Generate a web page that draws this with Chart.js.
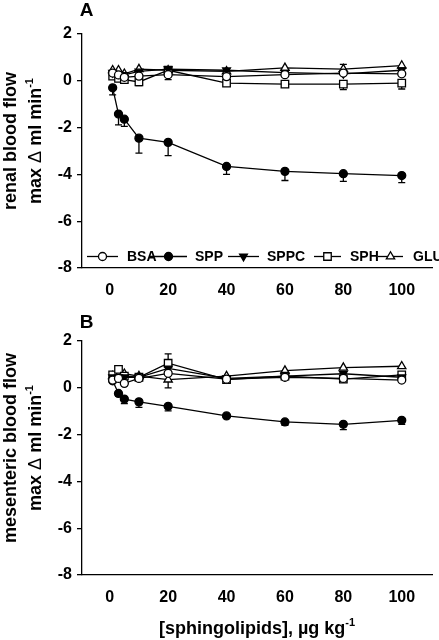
<!DOCTYPE html>
<html>
<head>
<meta charset="utf-8">
<script src="https://cdn.jsdelivr.net/npm/chart.js@4.4.0/dist/chart.umd.min.js"></script>
<style>
  body { margin: 0; background: #fff; width: 439px; height: 640px; overflow: hidden; position: relative; }
  .panel { position: absolute; left: 0; width: 439px; }
</style>
</head>
<body>
<div class="panel" style="top:0;height:305px"><canvas id="chartA"></canvas></div>
<div class="panel" style="top:305px;height:335px"><canvas id="chartB"></canvas></div>
<script>
// --- DATA ---
const doses = [1, 3, 5, 10, 20, 40, 60, 80, 100];
const xTicks = [0, 20, 40, 60, 80, 100];
const yTicks = [-8, -6, -4, -2, 0, 2];
const seriesNames = ['BSA', 'SPP', 'SPPC', 'SPH', 'GLU'];

// panel A: renal blood flow
const bsaA  = [0.33, 0.25, 0.15, 0.2, 0.26, 0.18, 0.26, 0.33, 0.3];
const sppA  = [-0.3, -1.42, -1.64, -2.45, -2.63, -3.66, -3.87, -3.97, -4.05];
const sppcA = [0.35, 0.3, 0.25, 0.4, 0.5, 0.45, 0.35, 0.3, 0.45];
const sphA  = [0.2, 0.1, 0.05, -0.05, 0.45, -0.1, -0.14, -0.14, -0.1];
const gluA  = [0.45, 0.45, 0.3, 0.5, 0.45, 0.4, 0.55, 0.5, 0.65];
// error bar tips (null = none visible)
const sppErrA = [-0.6, -1.88, -1.95, -3.09, -3.2, -4.0, -4.26, -4.3, -4.35];
const sphErrA = [null, null, null, -0.2, null, null, -0.25, -0.38, -0.35];
const bsaErrA = [null, null, null, null, 0.05, null, null, null, null];
const gluErrA = [null, null, null, null, null, null, null, 0.7, null];

// panel B: mesenteric blood flow
const bsaB  = [0.33, 0.4, 0.19, 0.4, 0.62, 0.37, 0.45, 0.4, 0.33];
const sppB  = [0.3, -0.24, -0.48, -0.6, -0.79, -1.2, -1.46, -1.56, -1.39];
const sppcB = [0.45, 0.45, 0.45, 0.45, 0.83, 0.4, 0.5, 0.6, 0.45];
const sphB  = [0.55, 0.79, 0.5, 0.45, 1.05, 0.35, 0.5, 0.37, 0.55];
const gluB  = [0.5, 0.55, 0.6, 0.5, 0.35, 0.5, 0.73, 0.86, 0.92];
const sppErrB = [null, -0.35, -0.67, -0.84, -0.99, null, -1.6, -1.79, -1.56];
const sphErrB = [null, null, null, null, 1.45, null, null, null, null];
const gluErrB = [null, null, null, null, 0.0, null, null, null, null];

// --- STYLE ---
const FONT = "'Liberation Sans', Arial, sans-serif";
const markers = [
  { pointStyle: 'circle', rotation: 0, fill: '#fff', radius: 4 },
  { pointStyle: 'circle', rotation: 0, fill: '#000', radius: 4 },
  { pointStyle: 'triangle', rotation: 180, fill: '#000', radius: 4.5 },
  { pointStyle: 'rect', rotation: 0, fill: '#fff', radius: 5.3 },
  { pointStyle: 'triangle', rotation: 0, fill: '#fff', radius: 4.8 }
];

// draws rich text (bold / normal / superscript pieces) centred at 0,0
function drawPieces(ctx, pieces, size) {
  const fontOf = p => p.sup ? `bold ${Math.round(size * 0.62)}px ${FONT}` :
    `${p.normal ? 'normal' : 'bold'} ${size}px ${FONT}`;
  let total = 0;
  pieces.forEach(p => { ctx.font = fontOf(p); p.w = ctx.measureText(p.t).width; total += p.w; });
  let x = -total / 2;
  ctx.textAlign = 'left';
  ctx.textBaseline = 'alphabetic';
  pieces.forEach(p => {
    ctx.font = fontOf(p);
    ctx.fillText(p.t, x, p.sup ? -size * 0.45 : 0);
    x += p.w;
  });
}

const decor = {
  id: 'decor',
  beforeDatasetsDraw(chart, args, o) {
    const ctx = chart.ctx, xs = chart.scales.x, ys = chart.scales.y;
    ctx.save();
    ctx.strokeStyle = '#000';
    ctx.lineWidth = 1.3;
    o.errors.forEach((errs, i) => {
      if (!errs) return;
      const vals = chart.data.datasets[i].data;
      errs.forEach((tip, j) => {
        if (tip === null) return;
        const x = xs.getPixelForValue(doses[j]);
        const y0 = ys.getPixelForValue(vals[j].y);
        const y1 = ys.getPixelForValue(tip);
        ctx.beginPath();
        ctx.moveTo(x, y0); ctx.lineTo(x, y1);
        ctx.moveTo(x - 3.5, y1); ctx.lineTo(x + 3.5, y1);
        ctx.stroke();
      });
    });
    ctx.restore();
  },
  afterDraw(chart, args, o) {
    const ctx = chart.ctx;
    ctx.save();
    ctx.fillStyle = '#000';
    // panel letter
    ctx.font = `bold 19px ${FONT}`;
    ctx.textAlign = 'center';
    ctx.textBaseline = 'alphabetic';
    ctx.fillText(o.letter, 86.5, o.letterY);

    // y title, two rotated lines
    const cy = (chart.chartArea.top + chart.chartArea.bottom) / 2 - 10;
    ctx.save();
    ctx.translate(16, cy);
    ctx.rotate(-Math.PI / 2);
    drawPieces(ctx, [{ t: o.yTitle }], 18);
    ctx.restore();
    ctx.save();
    ctx.translate(41, cy);
    ctx.rotate(-Math.PI / 2);
    drawPieces(ctx, [{ t: 'max ' }, { t: 'Δ', normal: true }, { t: ' ml min' }, { t: '-1', sup: true }], 18);
    ctx.restore();

    // x title
    if (o.xTitle) {
      ctx.save();
      ctx.translate(257, chart.height - 6);
      drawPieces(ctx, [{ t: '[sphingolipids], µg kg' }, { t: '-1', sup: true }], 18);
      ctx.restore();
    }

    // legend
    if (o.legend) {
      const ly = 256.5;
      const spans = [[87, 118], [150, 187], [228, 259], [314, 341], [378, 403]];
      const textX = [127, 195, 267, 350, 413];
      seriesNames.forEach((name, k) => {
        const [a, b] = spans[k];
        ctx.strokeStyle = '#000';
        ctx.lineWidth = 1.3;
        ctx.beginPath(); ctx.moveTo(a, ly); ctx.lineTo(b, ly); ctx.stroke();
        const m = markers[k];
        ctx.fillStyle = m.fill;
        Chart.helpers.drawPoint(ctx, { pointStyle: m.pointStyle, rotation: m.rotation, radius: m.radius, borderWidth: 1.3 }, (a + b) / 2, ly);
        ctx.fillStyle = '#000';
        ctx.font = `bold 14px ${FONT}`;
        ctx.textAlign = 'left';
        ctx.textBaseline = 'middle';
        ctx.fillText(name, textX[k], ly + 1);
      });
    }
    ctx.restore();
  }
};

function makePanel(id, series, errors, opts) {
  const datasets = series.map((vals, i) => ({
    label: seriesNames[i],
    data: doses.map((d, j) => ({ x: d, y: vals[j] })),
    borderColor: '#000',
    borderWidth: 1.3,
    tension: 0,
    pointStyle: markers[i].pointStyle,
    rotation: markers[i].rotation,
    pointRadius: markers[i].radius,
    pointBackgroundColor: markers[i].fill,
    pointBorderColor: '#000',
    pointBorderWidth: 1.3
  }));
  const tickFont = { family: FONT, weight: 'bold', size: 16 };
  return new Chart(document.getElementById(id), {
    type: 'line',
    data: { datasets },
    options: {
      responsive: true,
      maintainAspectRatio: false,
      animation: false,
      layout: { padding: { top: opts.top, right: 1, left: 0, bottom: 0 } },
      scales: {
        x: {
          type: 'linear', min: -9.5, max: 110.5,
          afterBuildTicks: s => { s.ticks = xTicks.map(v => ({ value: v })); },
          ticks: { color: '#000', font: tickFont, padding: 5 },
          grid: { display: false },
          border: { display: true, color: '#000', width: 1.3 },
          afterFit: s => { s.height = opts.xHeight; }
        },
        y: {
          min: -8, max: 2,
          afterBuildTicks: s => { s.ticks = yTicks.map(v => ({ value: v })); },
          ticks: { color: '#000', font: tickFont, padding: 5 },
          grid: { drawOnChartArea: false, drawTicks: true, tickLength: 5, color: '#000', lineWidth: 1.3 },
          border: { display: true, color: '#000', width: 1.3 },
          afterFit: s => { s.width = 82; }
        }
      },
      plugins: {
        legend: { display: false },
        tooltip: { enabled: false },
        decor: {
          errors, letter: opts.letter, letterY: opts.letterY,
          yTitle: opts.yTitle, xTitle: opts.xTitle, legend: opts.legend
        }
      }
    },
    plugins: [decor]
  });
}

makePanel('chartA', [bsaA, sppA, sppcA, sphA, gluA], [bsaErrA, sppErrA, null, sphErrA, gluErrA],
  { top: 34, xHeight: 37, letter: 'A', letterY: 16, yTitle: 'renal blood flow', xTitle: false, legend: true });
makePanel('chartB', [bsaB, sppB, sppcB, sphB, gluB], [null, sppErrB, null, sphErrB, gluErrB],
  { top: 36, xHeight: 65, letter: 'B', letterY: 23, yTitle: 'mesenteric blood flow', xTitle: true, legend: false });
</script>
</body>
</html>
